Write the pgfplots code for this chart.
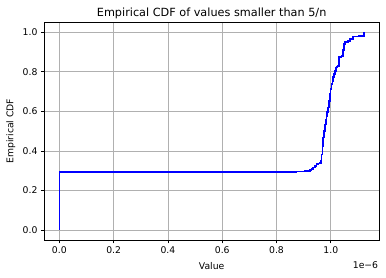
\documentclass[border=0pt]{standalone}
\usepackage{fontspec}
\setmainfont{DejaVu Sans}
\usepackage{pgfplots}
\pgfplotsset{compat=1.18}
\definecolor{gridgray}{HTML}{B0B0B0}
\begin{document}
\begin{tikzpicture}
\begin{axis}[
  scale only axis, width=334.7bp, height=217.7bp,
  xmin=-0.0555e-6, xmax=1.1775e-6, ymin=-0.05, ymax=1.05,
  xtick={0,0.2e-6,0.4e-6,0.6e-6,0.8e-6,1.0e-6},
  ytick={0,0.2,0.4,0.6,0.8,1.0},
  scaled x ticks=base 10:6,
  xtick scale label code/.code={1e−6},
  every x tick scale label/.style={at={(axis description cs:0.998,-0.13)}, anchor=base east, inner sep=0pt, font=\fontsize{9.3}{11}\selectfont},
  grid=major,
  major grid style={color=gridgray, line width=0.75bp},
  axis line style={line width=0.75bp},
  tick style={black, line width=0.75bp},
  tick align=outside, major tick length=3.3bp,
  xtick pos=left, ytick pos=left,
  tick label style={font=\fontsize{9.3}{11}\selectfont},
  /pgf/number format/assume math mode=true,
  xticklabel style={/pgf/number format/fixed, /pgf/number format/fixed zerofill, /pgf/number format/precision=1},
  yticklabel style={/pgf/number format/fixed, /pgf/number format/fixed zerofill, /pgf/number format/precision=1},
  every axis title shift=0pt,
  title={Empirical CDF of values smaller than 5/n},
  title style={at={(axis description cs:0.5,1.0257)}, anchor=base, inner sep=0pt, font=\fontsize{11.3}{13}\selectfont},
  xlabel={Value},
  xlabel style={at={(axis description cs:0.5,-0.1346)}, anchor=base, inner sep=0pt, font=\fontsize{9.3}{11}\selectfont},
  ylabel={Empirical CDF},
  ylabel style={at={(axis description cs:-0.0926,0.5)}, anchor=base, inner sep=0pt, font=\fontsize{9.3}{11}\selectfont},
]
\addplot[const plot, color=blue, line width=1.7bp] coordinates {
(0,0)
(0,0.292)
(0.871e-6,0.296)
(0.905e-6,0.298)
(0.923e-6,0.302)
(0.929e-6,0.309)
(0.935e-6,0.316)
(0.941e-6,0.325)
(0.947e-6,0.334)
(0.953e-6,0.337)
(0.960e-6,0.339)
(0.963e-6,0.352)
(0.966e-6,0.382)
(0.969e-6,0.425)
(0.972e-6,0.468)
(0.975e-6,0.500)
(0.978e-6,0.534)
(0.981e-6,0.556)
(0.984e-6,0.577)
(0.987e-6,0.598)
(0.990e-6,0.619)
(0.993e-6,0.652)
(0.996e-6,0.687)
(0.999e-6,0.712)
(1.003e-6,0.738)
(1.006e-6,0.755)
(1.009e-6,0.772)
(1.012e-6,0.788)
(1.015e-6,0.805)
(1.018e-6,0.822)
(1.023e-6,0.826)
(1.027e-6,0.830)
(1.031e-6,0.873)
(1.039e-6,0.878)
(1.044e-6,0.910)
(1.049e-6,0.941)
(1.052e-6,0.949)
(1.064e-6,0.957)
(1.070e-6,0.966)
(1.082e-6,0.978)
(1.105e-6,0.980)
(1.113e-6,0.981)
(1.123e-6,1.000)
};
\end{axis}
\path (current axis.south west) ++(-44.3bp,-38bp) coordinate (BBA);
\path (current axis.north east) ++(7bp,22.3bp) coordinate (BBB);
\pgfresetboundingbox
\path[use as bounding box] (BBA) rectangle (BBB);
\end{tikzpicture}
\end{document}
